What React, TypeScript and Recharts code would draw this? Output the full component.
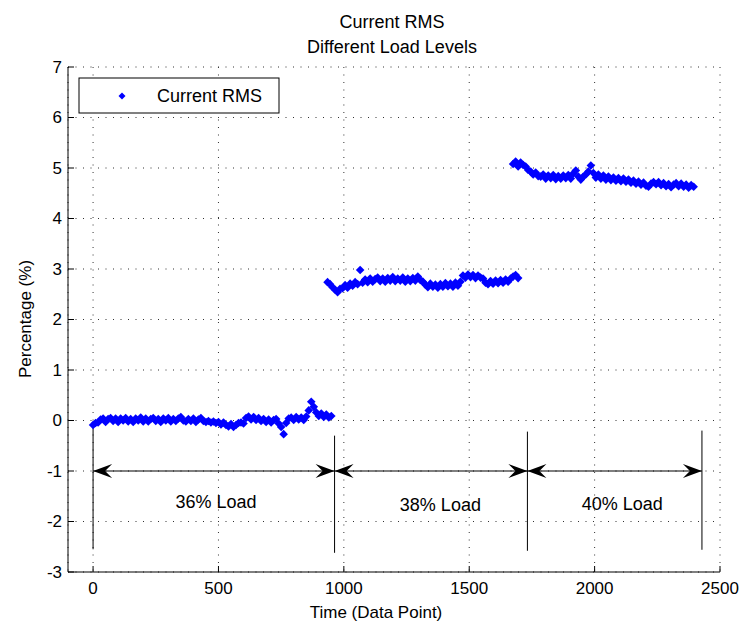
import { ComposedChart, Scatter, XAxis, YAxis, CartesianGrid, ReferenceLine, ReferenceDot, Customized } from 'recharts'

const FONT = '"Liberation Sans", Arial, Helvetica, sans-serif'
const BLUE = '#0000ff'

const titleLines = ['Current RMS', 'Different Load Levels']
const seriesName = 'Current RMS'
const xLabel = 'Time (Data Point)'
const yLabel = 'Percentage (%)'

const xTicks = [0, 500, 1000, 1500, 2000, 2500]
const yTicks = [-3, -2, -1, 0, 1, 2, 3, 4, 5, 6, 7]

// sample spacing of the readings below (data points)
const step = 10

const load36Start = 0
const load36 = [
  -0.09, -0.05, -0.04, 0.02, 0.04, -0.03, 0.03, 0.05, -0.01, 0.04,
  -0.03, 0.04, 0.0, 0.05, -0.02, 0.03, -0.03, 0.04, 0.0, 0.06,
  -0.02, 0.04, -0.02, 0.03, 0.05, -0.01, 0.03, -0.03, 0.04, 0.0,
  0.05, -0.02, 0.03, -0.01, 0.04, 0.07, 0.0, -0.02, 0.03, -0.01,
  0.04, -0.03, 0.02, 0.05, -0.01, -0.03, -0.01, -0.04, -0.02, -0.05,
  -0.03, -0.08, -0.04, -0.09, -0.12, -0.07, -0.13, -0.09, -0.05, -0.04,
  -0.06, 0.05, 0.08, 0.02, 0.07, 0.01, 0.05, -0.01, 0.03, -0.03,
  0.02, -0.04, 0.01, 0.03, -0.06, -0.13, -0.27, -0.05, 0.04, 0.06,
  0.01, 0.07, 0.02, 0.06, 0.01, 0.08, 0.2, 0.37, 0.27, 0.16,
  0.09, 0.14, 0.07, 0.12, 0.06, 0.09,
]

const load38Start = 935
const load38 = [
  2.74, 2.7, 2.64, 2.59, 2.54, 2.61, 2.62, 2.68, 2.63, 2.71,
  2.67, 2.74, 2.7, 2.98, 2.73, 2.79, 2.74, 2.81, 2.75, 2.8,
  2.83, 2.76, 2.81, 2.75, 2.82, 2.77, 2.84, 2.76, 2.81, 2.77,
  2.83, 2.75, 2.81, 2.76, 2.82, 2.77, 2.85, 2.78, 2.75, 2.69,
  2.64, 2.71, 2.65, 2.69, 2.63, 2.7, 2.65, 2.72, 2.66, 2.71,
  2.65, 2.73, 2.67, 2.75, 2.87, 2.83, 2.89, 2.84, 2.88, 2.82,
  2.87, 2.83, 2.81, 2.73, 2.7, 2.76, 2.71, 2.77, 2.72, 2.78,
  2.73, 2.79, 2.75, 2.81, 2.85, 2.88, 2.82,
]

const load40Start = 1675
const load40 = [
  5.08, 5.13, 5.03, 5.11, 5.06, 5.03, 4.96, 4.93, 4.87, 4.91,
  4.84, 4.83, 4.87, 4.79, 4.85, 4.8, 4.86, 4.78, 4.84, 4.79,
  4.85, 4.8, 4.86, 4.79, 4.89, 4.95, 4.83, 4.77, 4.83, 4.87,
  4.93, 5.05, 4.9, 4.81, 4.87, 4.79, 4.85, 4.77, 4.83, 4.76,
  4.81, 4.75, 4.8, 4.74, 4.79, 4.73, 4.77, 4.71, 4.75, 4.69,
  4.73, 4.67, 4.71, 4.65, 4.63, 4.69, 4.72, 4.68, 4.72, 4.66,
  4.7, 4.64, 4.68, 4.62, 4.67, 4.7, 4.64, 4.69, 4.63, 4.67,
  4.61, 4.66, 4.63,
]

// load level annotations
const boundaries = [0, 963, 1732, 2428]
const boundaryTop = [-0.15, -0.3, -0.22, -0.2]
const boundaryBottom = [-2.55, -2.62, -2.58, -2.56]
const arrowY = -1
const loadLabels = ['36% Load', '38% Load', '40% Load']
const loadLabelX = [490, 1385, 2110]
const loadLabelY = [-1.62, -1.68, -1.66]

const toPoints = (start: number, values: number[]) =>
  values.map((y, i) => ({ x: start + i * step, y }))

const points = [
  ...toPoints(load36Start, load36),
  ...toPoints(load38Start, load38),
  ...toPoints(load40Start, load40),
]

const Diamond = ({ cx, cy, r = 3.5 }: any) => (
  <path d={`M${cx - r},${cy} L${cx},${cy - r} L${cx + r},${cy} L${cx},${cy + r} Z`} fill={BLUE} />
)

const Marker = (p: any) => <Diamond cx={p.cx} cy={p.cy} r={4.3} />

const BottomTick = ({ x, y, payload }: any) => (
  <g>
    <line x1={x} y1={y} x2={x} y2={y - 6} stroke="#000" />
    <text x={x} y={y + 16} textAnchor="middle" dominantBaseline="central" fontSize={17} fontFamily={FONT} fill="#000">
      {payload.value}
    </text>
  </g>
)

const LeftTick = ({ x, y, payload }: any) => (
  <g>
    <line x1={x} y1={y} x2={x + 6} y2={y} stroke="#000" />
    <text x={x - 6} y={y} textAnchor="end" dominantBaseline="central" fontSize={17} fontFamily={FONT} fill="#000">
      {payload.value}
    </text>
  </g>
)

const TopTick = ({ x, y }: any) => <line x1={x} y1={y} x2={x} y2={y + 6} stroke="#000" />
const RightTick = ({ x, y }: any) => <line x1={x} y1={y} x2={x - 6} y2={y} stroke="#000" />

function DoubleArrow(props: any) {
  const { x1, y1, x2, y2 } = props
  const head = (tx: number, ty: number, dir: number) => {
    const len = 19
    const half = 7
    const notch = 12
    return (
      <path
        d={`M${tx},${ty} L${tx - dir * len},${ty - half} L${tx - dir * notch},${ty} L${tx - dir * len},${ty + half} Z`}
        fill="#000"
      />
    )
  }
  return (
    <g>
      <line x1={x1} y1={y1} x2={x2} y2={y2} stroke="#000" strokeWidth={1.2} />
      {head(x1, y1, -1)}
      {head(x2, y2, 1)}
    </g>
  )
}

const LoadText = (text: string) => (p: any) => (
  <text x={p.cx} y={p.cy} textAnchor="middle" dominantBaseline="central" fontSize={18} fontFamily={FONT} fill="#000">
    {text}
  </text>
)

const Decorations = () => (
  <g fontFamily={FONT} fill="#000">
    <text x={392} y={28} textAnchor="middle" fontSize={18}>{titleLines[0]}</text>
    <text x={392} y={53} textAnchor="middle" fontSize={18}>{titleLines[1]}</text>
    <text x={376} y={618} textAnchor="middle" fontSize={17}>{xLabel}</text>
    <text x={31} y={319} textAnchor="middle" fontSize={17} transform="rotate(-90 31 319)">{yLabel}</text>
    <rect x={79} y={78} width={200} height={35} fill="#fff" stroke="#000" />
    <Diamond cx={122} cy={96} />
    <text x={157} y={102} fontSize={18}>{seriesName}</text>
  </g>
)

export default function App() {
  return (
    <div style={{ position: 'absolute', left: 0, top: 0, background: '#fff' }}>
      <ComposedChart width={743} height={629} margin={{ top: 67, right: 23, bottom: 27, left: 8 }}>
        <CartesianGrid stroke="#333" strokeDasharray="1 6.5" />
        <XAxis
          type="number"
          dataKey="x"
          domain={[-100, 2500]}
          ticks={xTicks}
          interval={0}
          height={30}
          tickSize={0}
          tickMargin={0}
          tickLine={false}
          axisLine={{ stroke: '#000' }}
          tick={<BottomTick />}
          allowDataOverflow
        />
        <XAxis
          xAxisId="top"
          orientation="top"
          type="number"
          domain={[-100, 2500]}
          ticks={xTicks}
          interval={0}
          height={0}
          tickSize={0}
          tickMargin={0}
          tickLine={false}
          axisLine={{ stroke: '#000' }}
          tick={<TopTick />}
          allowDataOverflow
        />
        <YAxis
          type="number"
          dataKey="y"
          domain={[-3, 7]}
          ticks={yTicks}
          interval={0}
          width={60}
          tickSize={0}
          tickMargin={0}
          tickLine={false}
          axisLine={{ stroke: '#000' }}
          tick={<LeftTick />}
          allowDataOverflow
        />
        <YAxis
          yAxisId="right"
          orientation="right"
          type="number"
          domain={[-3, 7]}
          ticks={yTicks}
          interval={0}
          width={0}
          tickSize={0}
          tickMargin={0}
          tickLine={false}
          axisLine={{ stroke: '#000' }}
          tick={<RightTick />}
          allowDataOverflow
        />
        <Scatter name={seriesName} data={points} dataKey="y" shape={Marker} isAnimationActive={false} />
        {boundaries.map((b, i) => (
          <ReferenceLine
            key={`b-${i}`}
            segment={[{ x: b, y: boundaryTop[i] }, { x: b, y: boundaryBottom[i] }]}
            stroke="#000"
            strokeWidth={1}
          />
        ))}
        {loadLabels.map((label, i) => (
          <ReferenceLine
            key={`a-${i}`}
            segment={[{ x: boundaries[i], y: arrowY }, { x: boundaries[i + 1], y: arrowY }]}
            shape={DoubleArrow}
          />
        ))}
        {loadLabels.map((label, i) => (
          <ReferenceDot key={`t-${i}`} x={loadLabelX[i]} y={loadLabelY[i]} r={0} shape={LoadText(label)} />
        ))}
        <Customized component={<Decorations />} />
      </ComposedChart>
    </div>
  )
}
